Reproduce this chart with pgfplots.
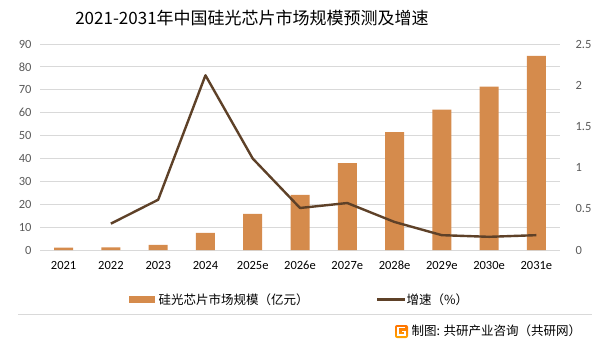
\documentclass[border=0pt]{standalone}
\usepackage{pgfplots}
\pgfplotsset{compat=1.18}
\usepackage{fontspec}
\setmainfont{Carlito}
\newfontfamily\cjk{Noto Sans CJK SC}
\definecolor{barc}{HTML}{D58B4C}
\definecolor{linec}{HTML}{5E4128}
\definecolor{gridc}{HTML}{D9D9D9}
\definecolor{tickc}{HTML}{595959}
\begin{document}
\begin{tikzpicture}[x=1pt,y=1pt]
\path[use as bounding box] (0,0) rectangle (600,346);
\pgfplotsset{
  base/.style={
    at={(40pt,96pt)}, anchor=south west,
    width=520pt, height=206pt, scale only axis,
    xmin=-0.5, xmax=10.5,
    xtick={0,...,10},
    axis line style={draw=none},
    tick style={draw=none},
    tick label style={font=\fontsize{12.5}{13}\selectfont, text=tickc},
    /pgf/number format/assume math mode=true,
  }
}
\begin{axis}[base,
  ymin=0, ymax=90, ytick={0,10,...,90},
  ymajorgrids, grid style={gridc, line width=0.8pt},
  xticklabels={2021,2022,2023,2024,2025e,2026e,2027e,2028e,2029e,2030e,2031e},
  xticklabel style={yshift=-7pt, text=black, text height=9pt, text depth=2pt},
  yticklabel style={xshift=-5pt},
]
\addplot[ybar, bar width=19pt, fill=barc, draw=none] coordinates {
(0,1.0) (1,1.1) (2,2.2) (3,7.5) (4,15.8) (5,24.1) (6,38.0) (7,51.5) (8,61.3) (9,71.4) (10,84.8)};
\end{axis}
\begin{axis}[base,
  ymin=0, ymax=2.5, ytick={0,0.5,...,2.5},
  axis y line*=right, axis x line=none,
  yticklabel style={xshift=12pt},
  yticklabel={\pgfmathprintnumber{\tick}},
]
\addplot[linec, line width=2.4pt, mark=none, line join=round] coordinates {
(1,0.32) (2,0.61) (3,2.12) (4,1.11) (5,0.51) (6,0.57) (7,0.34) (8,0.18) (9,0.16) (10,0.18)};
\end{axis}
% title
\node[font=\cjk\fontsize{17}{18}\selectfont, anchor=center] at (252,328) {2021-2031年中国硅光芯片市场规模预测及增速};
% legend
\fill[barc] (129,43) rectangle (155,50);
\node[font=\cjk\fontsize{12.5}{14}\selectfont, anchor=west] at (155,46.5) {硅光芯片市场规模（亿元）};
\draw[linec, line width=2.4pt] (377,46.5) -- (405,46.5);
\node[font=\cjk\fontsize{12.5}{14}\selectfont, anchor=west] at (403,46.5) {增速（\%）};
% separator
\draw[gridc, line width=0.8pt] (18,32) -- (592,32);
% footer logo
\shade[top color=orange!90!red, bottom color=orange!70!yellow, rounded corners=2pt] (395,8) rectangle (408,21);
\draw[white, line width=1.6pt] (405,18.5) -- (398,18.5) -- (398,11) -- (405,11) -- (405,14.5) -- (402,14.5);
\node[font=\cjk\fontsize{12.5}{14}\selectfont, anchor=west] at (408,15) {制图: 共研产业咨询（共研网）};
\end{tikzpicture}
\end{document}
